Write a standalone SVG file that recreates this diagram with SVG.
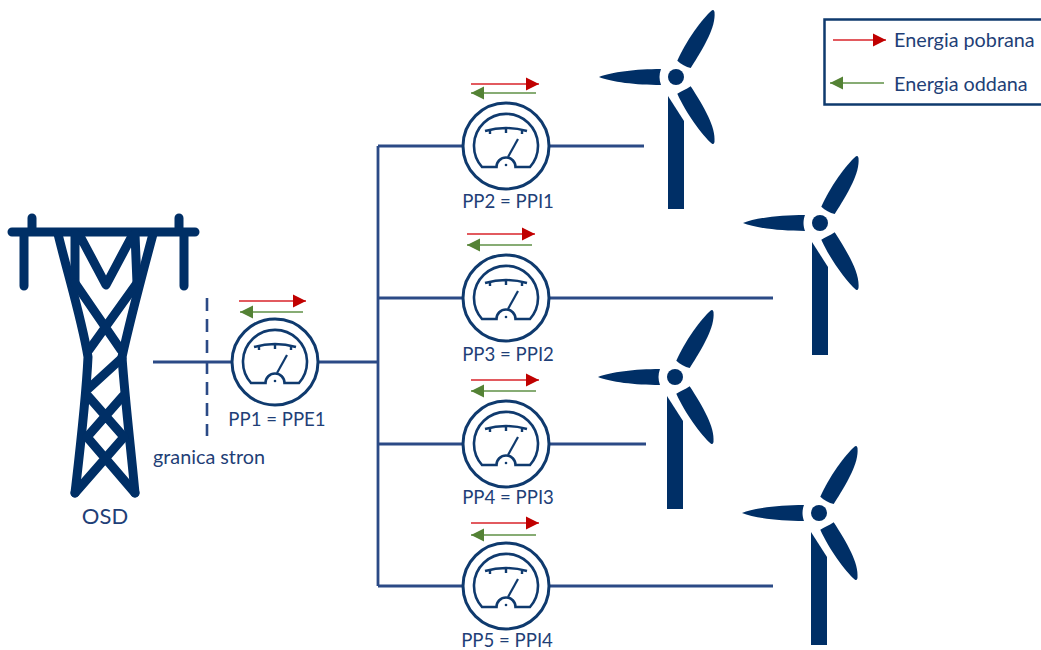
<svg xmlns="http://www.w3.org/2000/svg" width="1041" height="650" viewBox="0 0 1041 650">
<style>
text{font-family:"Lato","Carlito","Liberation Sans",sans-serif;fill:#1f3f77;font-size:18.600px}
.big{font-size:19.800px}
.wire{stroke:#2b4a86;stroke-width:2.800;fill:none}
.tw{stroke:#002f66;stroke-width:9;fill:none;stroke-linecap:round;stroke-linejoin:round}
.m{stroke:#0f3a6e;fill:none}
.r{stroke:#d9232a;stroke-width:1.300;marker-end:url(#hr)}
.g{stroke:#5f9146;stroke-width:1.300;marker-end:url(#hg)}
.blade{fill:#002f66}
</style>
<defs>
<marker id="hr" markerUnits="userSpaceOnUse" markerWidth="14" markerHeight="14" refX="13" refY="7" orient="auto"><path d="M0 0.500L13 7L0 13.500Z" fill="#c00000"/></marker>
<marker id="hg" markerUnits="userSpaceOnUse" markerWidth="14" markerHeight="14" refX="13" refY="7" orient="auto"><path d="M0 0.500L13 7L0 13.500Z" fill="#548235"/></marker>
<g id="meter">
<circle r="43" class="m" stroke-width="3" fill="#fff"/>
<path class="m" stroke-width="2.600" d="M-9.500 21H-24A32 32 0 1 1 24 21H9.500A9.500 9.500 0 0 0 -9.500 21Z"/>
<path class="m" stroke-width="2.400" d="M-21 -15Q0 -21 21 -15M-16 -17V-12M0 -19V-13M16 -17V-12"/>
<path class="m" stroke-width="2.200" d="M2 11L12 -7"/>
<circle cy="19" r="1.300" fill="#0f3a6e"/>
</g>
<g id="turbine" class="blade">
<circle r="8"/>
<path d="M-15 -8C-40 -8 -65 -5 -77 0C-65 5 -40 8 -15 8C-17 3 -17 -3 -15 -8Z"/>
<path d="M1.300 -16.300C10 -36 26 -58 36 -66.700Q38 -68 38.500 -65C40 -50 28 -30 14.700 -9C10 -10 5 -13 1.300 -16.300Z"/>
<path d="M14.700 9.300C28 30 40 50 38.500 65Q38 68 36 66.700C26 58 10 36 1.300 16.700C5 14 10 13 14.700 9.300Z"/>
<path d="M-8 19L8 44V132H-8Z"/>
</g>
</defs>
<g id="connectors">
<path class="wire" d="M153 362H232M318 362H379M378 146V586M378 146H462M378 298H462M378 444H462M378 586H462M549 146H644M549 298H773M549 444H646M549 586H773"/>
<path d="M207 298V436" stroke="#2b4a86" stroke-width="2.600" stroke-dasharray="13 8" fill="none"/>
</g>
<g id="osd-tower" class="tw">
<path d="M12 232H195M32 218V232M179 218V232M24 232V286M184 232V286"/>
<path d="M58 234C68 275 82 320 88 357C86 400 80 450 75 493M153 234C142 275 130 320 122 357C125 400 131 450 135 493"/>
<path d="M75 234V283M135 234L137 283M80 236L106 285L132 236"/>
<path d="M75 283L121 350M137 283L89 350M122 358L87 390M88 396L124 437M123 396L87 437M87 437L135 493M124 437L75 493"/>
</g>
<text id="osd-label" x="105" y="524" text-anchor="middle" style="font-size:22px">OSD</text>
<text id="boundary-label" class="big" x="153" y="464">granica stron</text>
<g id="pp1"><use href="#meter" x="275" y="362"/><path class="r" d="M239 301H306"/><path class="g" d="M303 312H240"/><text x="277" y="426" text-anchor="middle">PP1 = PPE1</text></g>
<g id="pp2"><use href="#meter" x="506" y="146"/><path class="r" d="M471 84H539"/><path class="g" d="M536 93H471"/><text x="508" y="208" text-anchor="middle">PP2 = PPI1</text></g>
<g id="pp3"><use href="#meter" x="506" y="298"/><path class="r" d="M467 234H535"/><path class="g" d="M532 245H467"/><text x="508" y="361" text-anchor="middle">PP3 = PPI2</text></g>
<g id="pp4"><use href="#meter" x="506" y="444"/><path class="r" d="M471 380H539"/><path class="g" d="M536 391H471"/><text x="508" y="504" text-anchor="middle">PP4 = PPI3</text></g>
<g id="pp5"><use href="#meter" x="506" y="586"/><path class="r" d="M471 523H539"/><path class="g" d="M536 535H471"/><text x="507" y="647" text-anchor="middle">PP5 = PPI4</text></g>
<g id="turbine1"><use href="#turbine" x="676" y="77"/></g>
<g id="turbine2"><use href="#turbine" x="820" y="223"/></g>
<g id="turbine3"><use href="#turbine" x="675" y="377"/></g>
<g id="turbine4"><use href="#turbine" x="819" y="513"/></g>
<g id="legend">
<path d="M1041 19.500H824.500V104.500H1041" fill="#fff" stroke="#0f3a6e" stroke-width="2.500"/>
<path class="r" d="M833 40H886"/><path class="g" d="M884 83H830"/>
<text class="big" x="894" y="47">Energia pobrana</text>
<text class="big" x="894" y="91">Energia oddana</text>
</g>
</svg>
